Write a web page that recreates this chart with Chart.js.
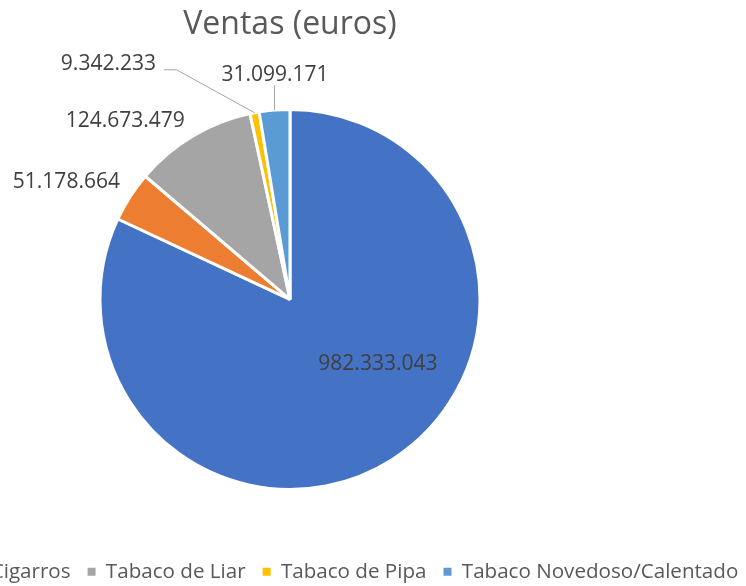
<!DOCTYPE html>
<html><head><meta charset="utf-8">
<script src="https://cdn.jsdelivr.net/npm/chart.js@4.4.0/dist/chart.umd.min.js"></script>
<style>
html,body{margin:0;padding:0;background:#fff;overflow:hidden;width:746px;height:586px;}
#wrap{position:absolute;left:-210px;top:0;width:1000px;height:592px;}
</style></head><body>
<div id="wrap"><canvas id="c" width="1000" height="592"></canvas></div>
<script>
const categories = ['Cigarrillos', 'Cigarros', 'Tabaco de Liar', 'Tabaco de Pipa', 'Tabaco Novedoso/Calentado'];
const ventas = [982333043, 51178664, 124673479, 9342233, 31099171];
const sliceColors = ['#4472C4', '#ED7D31', '#A5A5A5', '#FFC000', '#5B9BD5'];
const chartTitle = 'Ventas (euros)';

// label placement: polar position relative to pie (degrees clockwise from 12 o'clock, multiple of radius)
const labelPlacement = [
  {deg: 125.75, rf: 0.570},
  {deg: 298.0, rf: 1.333},
  {deg: 317.5, rf: 1.284},
  {deg: 322.5, rf: 1.570, leader: 'right', elbow: {deg: 333.7, rf: 1.348}},
  {deg: 356.2, rf: 1.19, leader: 'bottom'}
];

function fmt(v) { return v.toString().replace(/\B(?=(\d{3})+(?!\d))/g, '.'); }

const LABEL_FS = 21;
const sliceLabels = {
  id: 'sliceLabels',
  afterDatasetsDraw(chart) {
    const ctx = chart.ctx;
    const meta = chart.getDatasetMeta(0);
    ctx.save();
    ctx.font = LABEL_FS + 'px "Open Sans"';
    ctx.textAlign = 'center';
    ctx.textBaseline = 'alphabetic';
    meta.data.forEach((arc, i) => {
      const p = arc.getProps(['x', 'y', 'startAngle', 'endAngle', 'outerRadius'], true);
      const cx = p.x, cy = p.y, R = p.outerRadius;
      const pol = (deg, rf) => { const a = (deg - 90) * Math.PI / 180; return [cx + R * rf * Math.cos(a), cy + R * rf * Math.sin(a)]; };
      const L = labelPlacement[i];
      const [lx, ly] = pol(L.deg, L.rf);
      const text = fmt(ventas[i]);
      const w = ctx.measureText(text).width;
      if (L.leader) {
        const mid = (p.startAngle + p.endAngle) / 2;
        const ex = cx + R * Math.cos(mid), ey = cy + R * Math.sin(mid);
        ctx.strokeStyle = '#A6A6A6';
        ctx.lineWidth = 1;
        ctx.beginPath();
        ctx.moveTo(ex, ey);
        if (L.leader === 'right') {
          const [bx, by] = pol(L.elbow.deg, L.elbow.rf);
          ctx.lineTo(bx, by);
          ctx.lineTo(lx + w / 2 + 8, by);
        } else {
          ctx.lineTo(ex, ly + 0.55 * LABEL_FS);
        }
        ctx.stroke();
      }
      ctx.fillStyle = '#404040';
      ctx.fillText(text, lx, ly + 0.357 * LABEL_FS);
    });
    ctx.restore();
  }
};

new Chart(document.getElementById('c'), {
  type: 'pie',
  data: {
    labels: categories,
    datasets: [{data: ventas, backgroundColor: sliceColors, borderColor: '#ffffff', borderWidth: 3}]
  },
  options: {
    responsive: false,
    animation: false,
    radius: 190,
    layout: {padding: 0},
    plugins: {
      title: {
        display: true, text: chartTitle, color: '#595959',
        font: {family: '"Open Sans"', size: 32, weight: 'normal'},
        padding: {top: 6, bottom: 10}
      },
      legend: {
        position: 'bottom',
        labels: {
          color: '#595959',
          font: {family: '"Open Sans"', size: 20.6},
          boxWidth: 8, boxHeight: 8, padding: 17,
          generateLabels(chart) {
            const items = Chart.overrides.pie.plugins.legend.labels.generateLabels(chart);
            items.forEach(it => { it.lineWidth = 0; });
            return items;
          }
        }
      },
      tooltip: {enabled: false}
    }
  },
  plugins: [sliceLabels]
});
</script>
</body></html>
